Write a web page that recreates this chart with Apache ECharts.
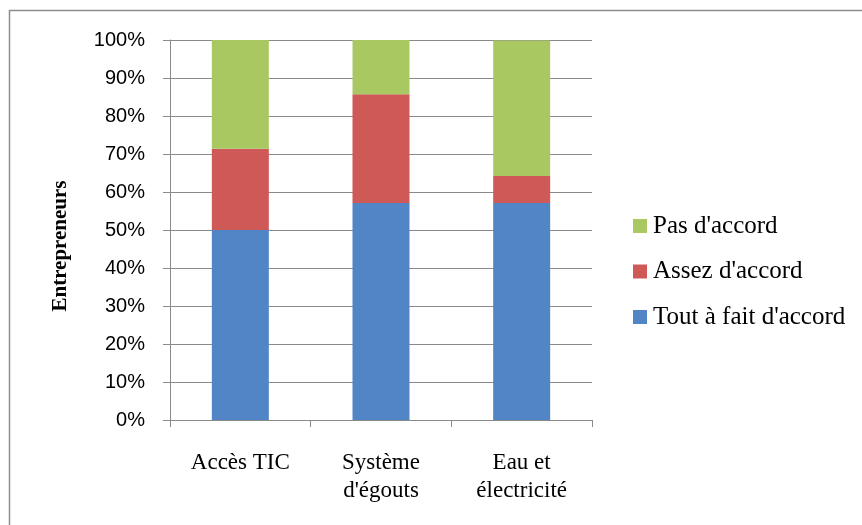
<!DOCTYPE html>
<html>
<head>
<meta charset="utf-8">
<script src="https://cdn.jsdelivr.net/npm/echarts@6/dist/echarts.min.js"></script>
<style>
  html, body { margin: 0; padding: 0; background: #fff; }
  #chart { width: 862px; height: 525px; }
</style>
</head>
<body>
<div id="chart"></div>
<script>
// Share of entrepreneurs (%) per answer, for each infrastructure item
const categories = ['Accès TIC', "Système\nd'égouts", 'Eau et\nélectricité'];
const toutAFait = [50.0, 57.1, 57.1];
const assez = [21.4, 28.6, 7.1];
const pasDaccord = [28.6, 14.3, 35.7];
const seriesNames = ["Tout à fait d'accord", "Assez d'accord", "Pas d'accord"];
const yTicks = [0, 10, 20, 30, 40, 50, 60, 70, 80, 90, 100];
const yTitle = 'Entrepreneurs';

const serif = '"Liberation Serif", "DejaVu Serif", serif';
const sans = '"Liberation Sans", "DejaVu Sans", sans-serif';
const gridGray = '#8a8a8a';
const colors = ['#5185C5', '#CF5957', '#AAC862'];

const chart = echarts.init(document.getElementById('chart'), null, { renderer: 'canvas' });

const values = [toutAFait, assez, pasDaccord];
chart.setOption({
  animation: false,
  backgroundColor: '#fff',
  graphic: [
    {
      type: 'rect',
      shape: { x: 9.5, y: 10.5, width: 900, height: 600 },
      style: { fill: 'none', stroke: '#8e8e8e', lineWidth: 1.5 },
      silent: true
    },
    {
      // vertical axis title, rotated to read bottom-to-top
      type: 'text',
      x: 61,
      y: 246,
      rotation: Math.PI / 2,
      style: {
        text: yTitle,
        font: 'bold 21px ' + serif,
        fill: '#000',
        align: 'center',
        verticalAlign: 'middle'
      },
      silent: true
    }
  ],
  grid: { left: 170, right: 270, top: 40, bottom: 105 },
  legend: {
    orient: 'vertical',
    left: 628,
    top: 208,
    itemWidth: 14,
    itemHeight: 14,
    itemGap: 19.5,
    icon: 'rect',
    data: [seriesNames[2], seriesNames[1], seriesNames[0]],
    textStyle: {
      fontFamily: serif, fontSize: 25, lineHeight: 26, color: '#000',
      padding: [0, 0, 0, 1]
    }
  },
  xAxis: {
    type: 'category',
    data: categories,
    axisLine: { lineStyle: { color: gridGray, width: 1 } },
    axisTick: { show: true, length: 7, lineStyle: { color: gridGray } },
    axisLabel: {
      fontFamily: serif, fontSize: 23, color: '#000', margin: 29, lineHeight: 28
    }
  },
  yAxis: {
    type: 'value',
    min: yTicks[0],
    max: yTicks[yTicks.length - 1],
    interval: 10,
    axisLine: { show: true, lineStyle: { color: gridGray, width: 1 } },
    axisTick: { show: true, length: 7, lineStyle: { color: gridGray } },
    splitLine: { show: true, lineStyle: { color: gridGray, width: 1 } },
    axisLabel: {
      fontFamily: sans, fontSize: 20, color: '#000', margin: 25,
      formatter: v => v + '%'
    }
  },
  series: seriesNames.map((name, i) => ({
    name,
    type: 'bar',
    stack: 'total',
    barWidth: 57,
    itemStyle: { color: colors[i] },
    data: values[i]
  }))
});
</script>
</body>
</html>
